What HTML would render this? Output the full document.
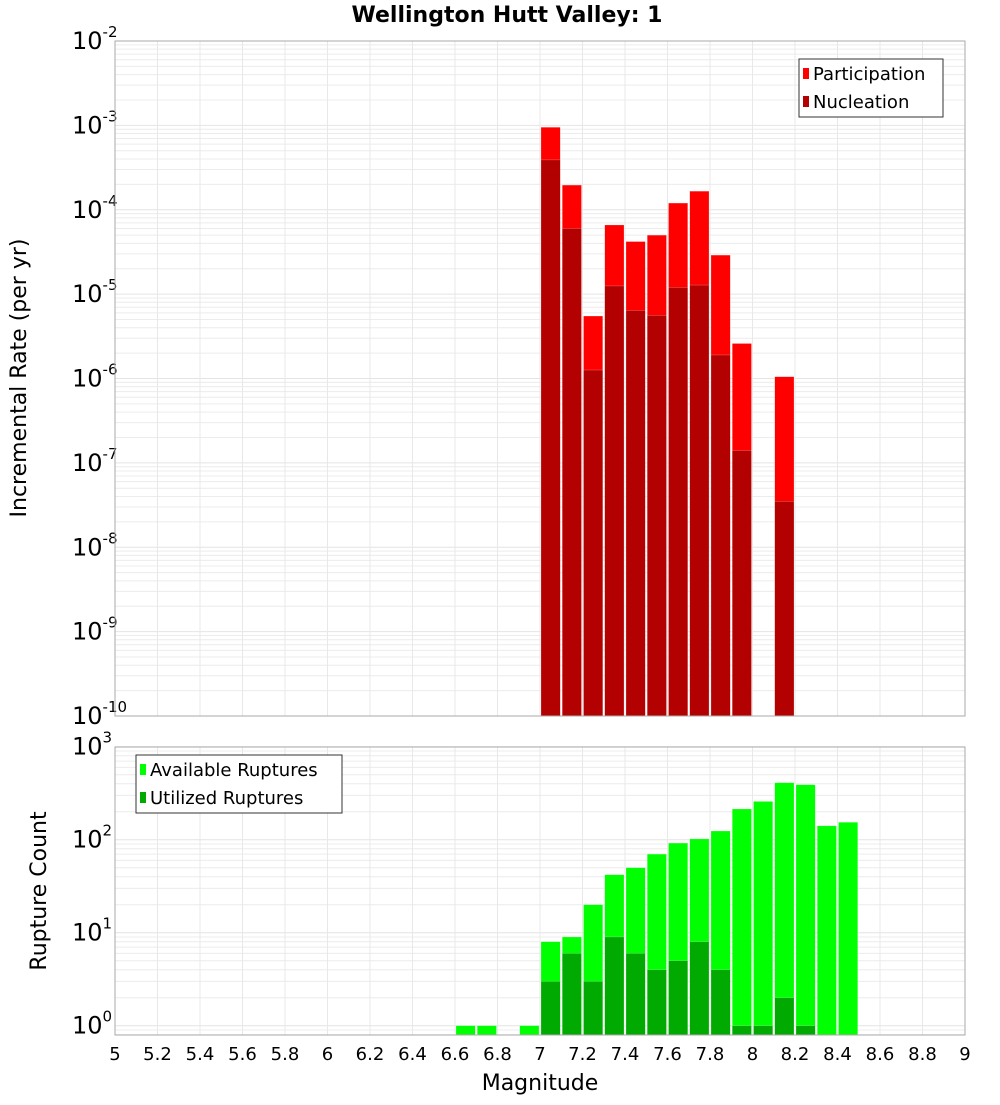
<!DOCTYPE html>
<html><head><meta charset="utf-8"><style>
body{margin:0;background:#fff;font-family:"Liberation Sans","DejaVu Sans",sans-serif}
svg text{font-family:"DejaVu Sans","Liberation Sans",sans-serif}
</style></head><body>
<svg id="chart" width="1000" height="1100" xmlns="http://www.w3.org/2000/svg">
<text x="507" y="22" text-anchor="middle" font-size="22" font-weight="bold">Wellington Hutt Valley: 1</text>
<g id="top"></g>
<g id="bot"></g>
<text transform="translate(26,378) rotate(-90)" text-anchor="middle" font-size="22">Incremental Rate (per yr)</text>
<text transform="translate(46,891) rotate(-90)" text-anchor="middle" font-size="22">Rupture Count</text>
<text x="540" y="1090" text-anchor="middle" font-size="22">Magnitude</text>
</svg>
<script>
const rateBins=[7.05,7.15,7.25,7.35,7.45,7.55,7.65,7.75,7.85,7.95,8.15];
const participation=[9.5e-4,1.96e-4,5.5e-6,6.6e-5,4.2e-5,5e-5,1.2e-4,1.66e-4,2.9e-5,2.6e-6,1.05e-6];
const nucleation=[3.9e-4,6e-5,1.26e-6,1.25e-5,6.4e-6,5.6e-6,1.2e-5,1.28e-5,1.9e-6,1.4e-7,3.5e-8];
const countBins=[6.65,6.75,6.95,7.05,7.15,7.25,7.35,7.45,7.55,7.65,7.75,7.85,7.95,8.05,8.15,8.25,8.35,8.45];
const available=[1,1,1,8,9,20,42,50,70,92,102,124,214,258,410,390,141,154];
const utilBins=[7.05,7.15,7.25,7.35,7.45,7.55,7.65,7.75,7.85,7.95,8.05,8.15,8.25];
const utilized=[3,6,3,9,6,4,5,8,4,1,1,2,1];
const xTicks=[5,5.2,5.4,5.6,5.8,6,6.2,6.4,6.6,6.8,7,7.2,7.4,7.6,7.8,8,8.2,8.4,8.6,8.8,9];
const rateExps=[-10,-9,-8,-7,-6,-5,-4,-3,-2];
const countExps=[0,1,2,3];
const NS="http://www.w3.org/2000/svg";
const X0=115,X1=965;
const xs=m=>X0+(m-5)/4*(X1-X0);
function mk(p,t,a){const e=document.createElementNS(NS,t);for(const k in a)e.setAttribute(k,a[k]);p.appendChild(e);return e;}
function panel(g,top,bot,yOf,lo,hi,exps,name){
  for(let d=lo;d<hi;d++)for(let k=2;k<=9;k++){const y=yOf(k*Math.pow(10,d));if(y>=top&&y<=bot){const l=mk(g,'line',{x1:X0,x2:X1,y1:y,y2:y,stroke:'#ececec','stroke-width':1});}}
  exps.forEach(e=>{const y=yOf(Math.pow(10,e));const l=mk(g,'line',{x1:X0,x2:X1,y1:y,y2:y,stroke:'#e4e4e4','stroke-width':1});
    const t=mk(g,'text',{x:72,y:y+8,'font-size':24});
    t.innerHTML='10<tspan dy="-12" font-size="15">'+e+'</tspan>';});
  xTicks.forEach(m=>{const x=xs(m);const l=mk(g,'line',{x1:x,x2:x,y1:top,y2:bot,stroke:'#e8e8e8','stroke-width':1});});
}
function bars(g,bins,vals,yOf,bot,fill,name){
  bins.forEach((b,i)=>{const x=xs(b-0.05)+1,w=xs(b+0.05)-xs(b-0.05)-2;const y=yOf(vals[i]);
    const r=mk(g,'rect',{x:x,y:y,width:w,height:bot-y,fill:fill,stroke:'#ffffff','stroke-opacity':0.4,'stroke-width':0.5});
    });
}
function legend(g,x,y,w,items){
  const b=mk(g,'rect',{x:x,y:y,width:w,height:58,fill:'#fff',stroke:'#333','stroke-width':1});
  items.forEach((it,i)=>{const s=mk(g,'rect',{x:x+4,y:y+9+i*28,width:6,height:11,fill:it[1]});
    const t=mk(g,'text',{x:x+14,y:y+21+i*28,'font-size':18});t.textContent=it[0];});
}
// top panel
const T0=41,T1=716;const yR=v=>T1-(Math.log10(v)+10)/8*(T1-T0);
const gt=document.getElementById('top');
panel(gt,T0,T1,yR,-10,-2,rateExps,'rate');
bars(gt,rateBins,participation,yR,T1,'#ff0000','participation-bar');
bars(gt,rateBins,nucleation,yR,T1,'#b30000','nucleation-bar');
const bt=mk(gt,'rect',{x:X0,y:T0,width:X1-X0,height:T1-T0,fill:'none',stroke:'#aaa','stroke-width':1});

legend(gt,799,59,144,[['Participation','#ff0000'],['Nucleation','#b30000']]);
// bottom panel
const B0=747,B1=1035;const yC=v=>1025.7-Math.log10(v)*93;
const gb=document.getElementById('bot');
panel(gb,B0,B1,yC,-1,3,countExps,'count');
bars(gb,countBins,available,yC,B1,'#00ff00','available-bar');
bars(gb,utilBins,utilized,yC,B1,'#00aa00','utilized-bar');
const bb=mk(gb,'rect',{x:X0,y:B0,width:X1-X0,height:B1-B0,fill:'none',stroke:'#aaa','stroke-width':1});

legend(gb,136,755,206,[['Available Ruptures','#00ff00'],['Utilized Ruptures','#00aa00']]);
xTicks.forEach(m=>{const t=mk(gb,'text',{x:xs(m),y:1060,'text-anchor':'middle','font-size':18});t.textContent=String(m);
  });
</script>
</body></html>
